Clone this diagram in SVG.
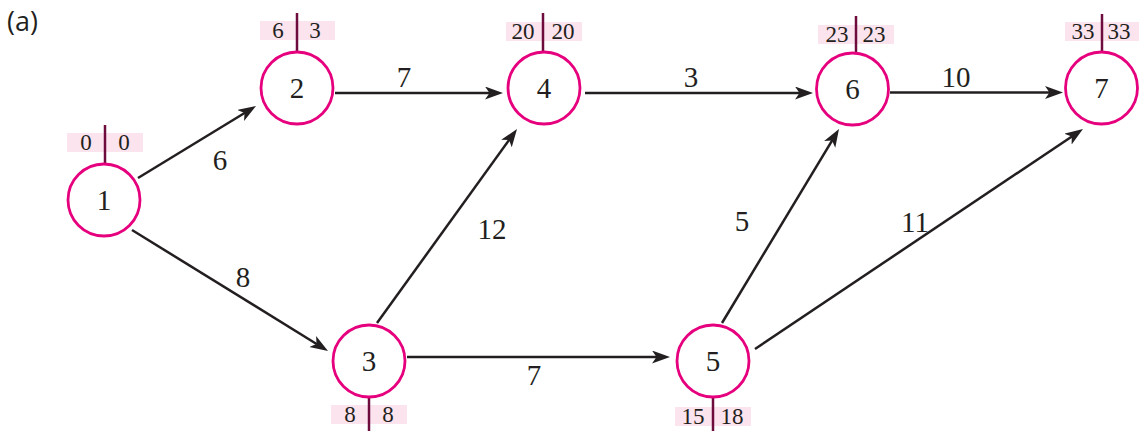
<svg xmlns="http://www.w3.org/2000/svg" width="1139" height="431" viewBox="0 0 1139 431">
<style>
.node circle{fill:#fff;stroke:#e6007e;stroke-width:2.8}
.num{font-family:"Liberation Serif","DejaVu Serif",serif;font-size:29px;fill:#231f20;text-anchor:middle}
.box{fill:#fce4ee}
.tick{stroke:#6e0c3e;stroke-width:2.5}
.bl{font-family:"Liberation Serif","DejaVu Serif",serif;font-size:23px;fill:#231f20;text-anchor:middle}
.edge{stroke:#231f20;stroke-width:2.5;fill:none;marker-end:url(#arr)}
.el{font-family:"Liberation Serif","DejaVu Serif",serif;font-size:29px;fill:#231f20;text-anchor:middle}
</style>
<defs>
<marker id="arr" markerUnits="userSpaceOnUse" markerWidth="20" markerHeight="14" refX="6" refY="6.5" orient="auto">
<path d="M0,0 L18,6.5 L0,13 L4.5,6.5 Z" fill="#231f20"/>
</marker>
</defs>
<rect width="1139" height="431" fill="#fff"/>
<text x="7" y="31" font-family="Open Sans, Liberation Sans, sans-serif" font-size="27" fill="#231f20">(a)</text>
<g id="connectors">
<line class="edge" x1="138" y1="178" x2="245.8" y2="112.3"/>
<line class="edge" x1="132" y1="230" x2="317.8" y2="344.7"/>
<line class="edge" x1="335" y1="93" x2="491" y2="93"/>
<line class="edge" x1="585" y1="93" x2="801" y2="93"/>
<line class="edge" x1="890" y1="92.5" x2="1051" y2="92.5"/>
<line class="edge" x1="407" y1="357" x2="658" y2="357"/>
<line class="edge" x1="377" y1="323" x2="510" y2="138.7"/>
<line class="edge" x1="722" y1="323" x2="832.8" y2="139.3"/>
<line class="edge" x1="755" y1="349" x2="1073" y2="135.7"/>
<text class="el" x="220" y="170">6</text>
<text class="el" x="243" y="287">8</text>
<text class="el" x="404" y="87">7</text>
<text class="el" x="492" y="239">12</text>
<text class="el" x="691" y="87">3</text>
<text class="el" x="534" y="385">7</text>
<text class="el" x="742" y="231">5</text>
<text class="el" x="956" y="87">10</text>
<text class="el" x="915" y="232">11</text>
</g>
<g id="node1" class="node">
<rect class="box" x="67" y="133" width="76" height="19"/>
<line class="tick" x1="105" y1="125" x2="105" y2="164"/>
<text class="bl" x="86" y="150">0</text><text class="bl" x="124" y="150">0</text>
<circle cx="104" cy="200" r="36"/>
<text class="num" x="104" y="210">1</text>
</g>
<g id="node2" class="node">
<rect class="box" x="260" y="21" width="75" height="19"/>
<line class="tick" x1="297" y1="13" x2="297" y2="52"/>
<text class="bl" x="278" y="38">6</text><text class="bl" x="315" y="38">3</text>
<circle cx="297" cy="88" r="36"/>
<text class="num" x="297" y="98">2</text>
</g>
<g id="node3" class="node">
<rect class="box" x="331" y="405" width="76" height="19"/>
<line class="tick" x1="369" y1="397" x2="369" y2="431"/>
<text class="bl" x="350" y="422">8</text><text class="bl" x="388" y="422">8</text>
<circle cx="369" cy="361" r="36"/>
<text class="num" x="369" y="371">3</text>
</g>
<g id="node4" class="node">
<rect class="box" x="506" y="22" width="76" height="19"/>
<line class="tick" x1="543" y1="13" x2="543" y2="52"/>
<text class="bl" x="523" y="39">20</text><text class="bl" x="563" y="39">20</text>
<circle cx="544" cy="88" r="36"/>
<text class="num" x="544" y="98">4</text>
</g>
<g id="node5" class="node">
<rect class="box" x="675" y="407" width="76" height="19"/>
<line class="tick" x1="713" y1="397" x2="713" y2="431"/>
<text class="bl" x="693" y="424">15</text><text class="bl" x="732" y="424">18</text>
<circle cx="713" cy="361" r="36"/>
<text class="num" x="713" y="371">5</text>
</g>
<g id="node6" class="node">
<rect class="box" x="818" y="25" width="76" height="19"/>
<line class="tick" x1="856" y1="16" x2="856" y2="53"/>
<text class="bl" x="837" y="42">23</text><text class="bl" x="874" y="42">23</text>
<circle cx="852.5" cy="89" r="36"/>
<text class="num" x="852.5" y="99">6</text>
</g>
<g id="node7" class="node">
<rect class="box" x="1065" y="22" width="74" height="19"/>
<line class="tick" x1="1102" y1="14" x2="1102" y2="52"/>
<text class="bl" x="1083" y="39">33</text><text class="bl" x="1119" y="39">33</text>
<circle cx="1101.5" cy="88" r="36"/>
<text class="num" x="1101.5" y="98">7</text>
</g>
</svg>
